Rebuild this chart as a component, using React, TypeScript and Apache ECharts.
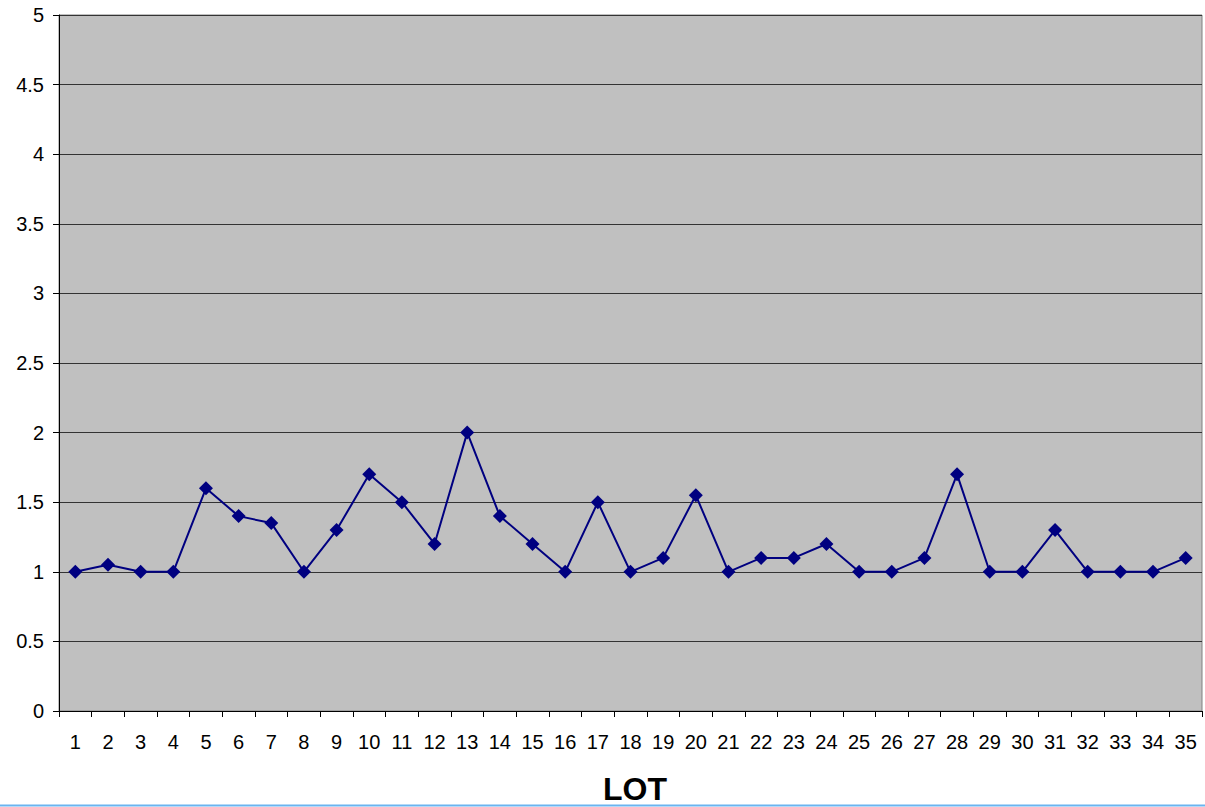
import React, { useEffect, useRef } from "react";
import * as echarts from "echarts";

const categories = Array.from({ length: 35 }, (_, i) => String(i + 1));
const values = [
  1, 1.05, 1, 1, 1.6, 1.4, 1.35, 1, 1.3, 1.7, 1.5, 1.2, 2, 1.4, 1.2, 1, 1.5, 1,
  1.1, 1.55, 1, 1.1, 1.1, 1.2, 1, 1, 1.1, 1.7, 1, 1, 1.3, 1, 1, 1, 1.1,
];
const xTitle = "LOT";

export default function App() {
  const ref = useRef<HTMLDivElement>(null);
  useEffect(() => {
    const chart = echarts.init(ref.current!, null, { renderer: "svg" });
    chart.setOption({
      animation: false,
      grid: {
        left: 59,
        right: 3,
        top: 15,
        bottom: 96,
        show: true,
        backgroundColor: "#c0c0c0",
        borderColor: "#808080",
        borderWidth: 1,
      },
      xAxis: {
        type: "category",
        data: categories,
        boundaryGap: true,
        axisLine: { lineStyle: { color: "#000", width: 1 } },
        axisTick: { show: true, inside: false, length: 6, interval: 0, lineStyle: { color: "#000" } },
        axisLabel: {
          interval: 0,
          margin: 21,
          fontSize: 20,
          color: "#000",
          fontFamily: "Liberation Sans, Arial, sans-serif",
        },
        splitLine: { show: false },
      },
      yAxis: {
        type: "value",
        min: 0,
        max: 5,
        interval: 0.5,
        axisLine: { show: true, lineStyle: { color: "#000", width: 1 } },
        axisTick: { show: true, inside: false, length: 6, lineStyle: { color: "#000" } },
        axisLabel: {
          margin: 15,
          fontSize: 20,
          color: "#000",
          fontFamily: "Liberation Sans, Arial, sans-serif",
        },
        splitLine: { show: true, lineStyle: { color: "#333", width: 1 } },
      },
      series: [
        {
          type: "line",
          data: values,
          symbol: "diamond",
          symbolSize: 14,
          lineStyle: { color: "#000080", width: 2 },
          itemStyle: { color: "#000080" },
        },
      ],
      graphic: [
        {
          type: "text",
          x: 635,
          y: 789,
          style: {
            text: xTitle,
            fontSize: 32,
            lineHeight: 32,
            fontWeight: "bold",
            fill: "#000",
            fontFamily: "Liberation Sans, Arial, sans-serif",
            textAlign: "center",
            textVerticalAlign: "middle",
          },
        },
        {
          type: "line",
          shape: { x1: 0, y1: 805.5, x2: 1205, y2: 805.5 },
          style: { stroke: "#6ab4f0", lineWidth: 2 },
        },
      ],
    });
    return () => chart.dispose();
  }, []);
  return (
    <div
      ref={ref}
      style={{ position: "fixed", left: 0, top: 0, width: 1205, height: 807, background: "#fff" }}
    />
  );
}
